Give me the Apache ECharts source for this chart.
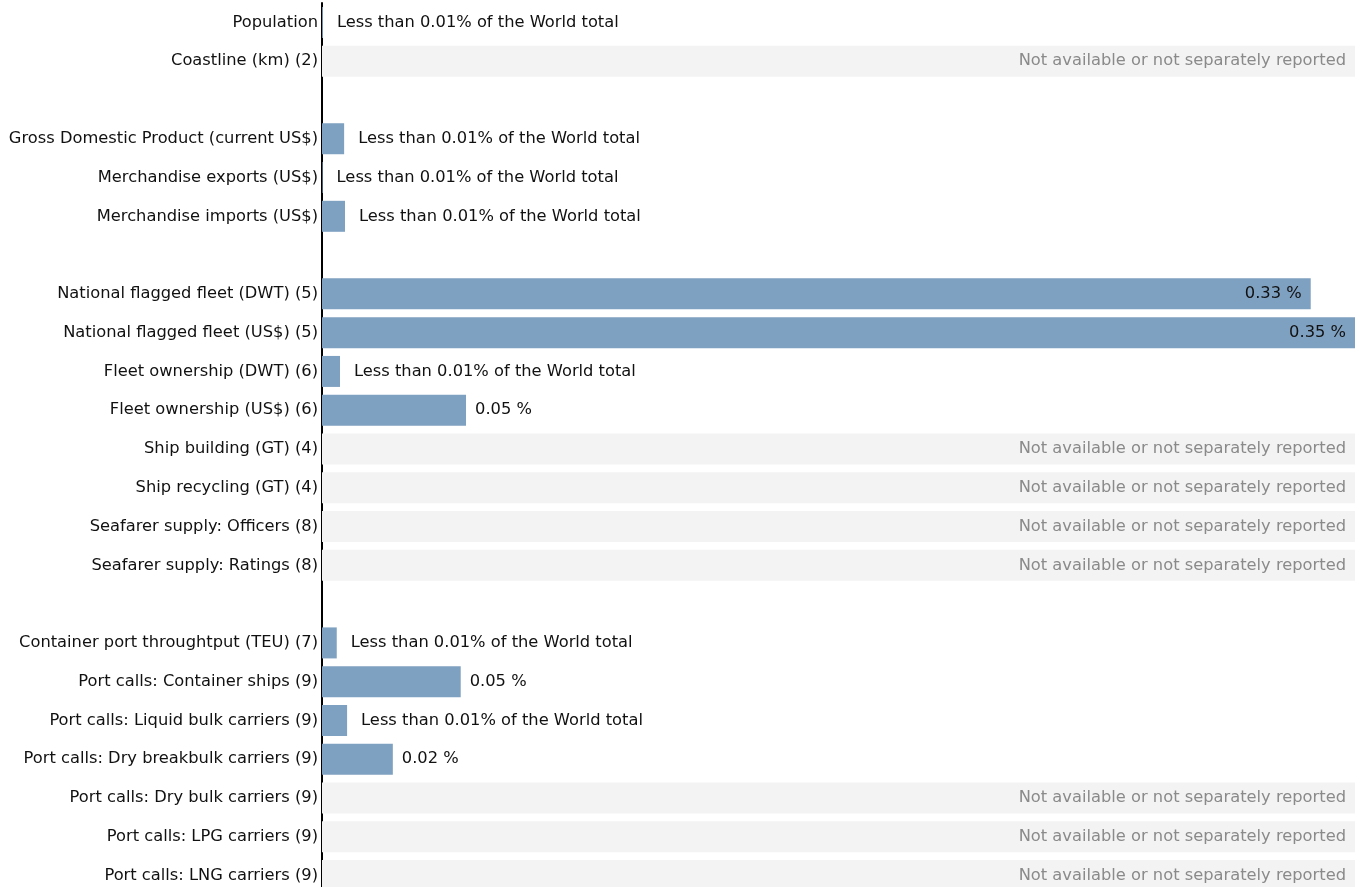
<!DOCTYPE html>
<html>
<head>
<meta charset="utf-8">
<script src="https://cdn.jsdelivr.net/npm/echarts@6/dist/echarts.min.js"></script>
<style>html,body{margin:0;padding:0;background:#fff;overflow:hidden;}#c{width:1365px;height:900px;}</style>
</head>
<body>
<div id="c"></div>
<script>
// Categories (blank strings = spacer rows)
const categories = [
  'Population',
  'Coastline (km) (2)',
  ' ',
  'Gross Domestic Product (current US$)',
  'Merchandise exports (US$)',
  'Merchandise imports (US$)',
  '  ',
  'National flagged fleet (DWT) (5)',
  'National flagged fleet (US$) (5)',
  'Fleet ownership (DWT) (6)',
  'Fleet ownership (US$) (6)',
  'Ship building (GT) (4)',
  'Ship recycling (GT) (4)',
  'Seafarer supply: Officers (8)',
  'Seafarer supply: Ratings (8)',
  '   ',
  'Container port throughtput (TEU) (7)',
  'Port calls: Container ships (9)',
  'Port calls: Liquid bulk carriers (9)',
  'Port calls: Dry breakbulk carriers (9)',
  'Port calls: Dry bulk carriers (9)',
  'Port calls: LPG carriers (9)',
  'Port calls: LNG carriers (9)'
];
// Share of world total (%), null = not available / spacer
const shares = [
  0.0003, null, null,
  0.0075, 0.0002, 0.0078, null,
  0.335, 0.35, 0.0061, 0.0488, null, null, null, null, null,
  0.005, 0.047, 0.0085, 0.024, null, null, null
];
// Row status: 'v' value, 'na' not available, 'b' blank spacer
const status = [
  'v','na','b',
  'v','v','v','b',
  'v','v','v','v','na','na','na','na','b',
  'v','v','v','v','na','na','na'
];
// Value labels as shown
const valueLabels = [
  'Less than 0.01% of the World total', '', '',
  'Less than 0.01% of the World total', 'Less than 0.01% of the World total', 'Less than 0.01% of the World total', '',
  '0.33 %', '0.35 %', 'Less than 0.01% of the World total', '0.05 %', '', '', '', '', '',
  'Less than 0.01% of the World total', '0.05 %', 'Less than 0.01% of the World total', '0.02 %', '', '', ''
];
const naText = 'Not available or not separately reported';
const axisMax = 0.35;

const FONT = 'DejaVu Sans';
const FS = 16.3;

const naData = status.map(s => s === 'na' ? axisMax : null);
const valData = shares.map((v, i) => {
  if (v === null) return null;
  const inside = v > 0.2;
  const isLess = valueLabels[i].indexOf('Less') === 0;
  return {
    value: v,
    label: {
      show: true,
      position: inside ? 'insideRight' : 'right',
      distance: inside ? 9 : (isLess ? 14 : 9),
      formatter: valueLabels[i]
    }
  };
});

const chart = echarts.init(document.getElementById('c'));
chart.setOption({
  animation: false,
  grid: { left: 322, right: 10, top: 3, bottom: 5, containLabel: false },
  xAxis: {
    type: 'value', min: 0, max: axisMax,
    show: false
  },
  yAxis: {
    type: 'category',
    data: categories,
    inverse: true,
    axisLine: { show: true, lineStyle: { color: '#000', width: 2 } },
    axisTick: { show: false },
    axisLabel: { color: '#111', fontSize: FS, fontFamily: FONT, margin: 4 },
    splitLine: { show: false }
  },
  series: [
    {
      type: 'bar',
      data: naData,
      barWidth: 31,
      barGap: '-100%',
      itemStyle: { color: '#f3f3f3' },
      label: {
        show: true, position: 'insideRight', distance: 9,
        formatter: naText, color: '#8a8a8a', fontSize: FS, fontFamily: FONT
      },
      silent: true
    },
    {
      type: 'bar',
      data: valData,
      barWidth: 31,
      barGap: '-100%',
      itemStyle: { color: '#7fa1c1' },
      label: { color: '#111', fontSize: FS, fontFamily: FONT }
    }
  ]
});
</script>
</body>
</html>
